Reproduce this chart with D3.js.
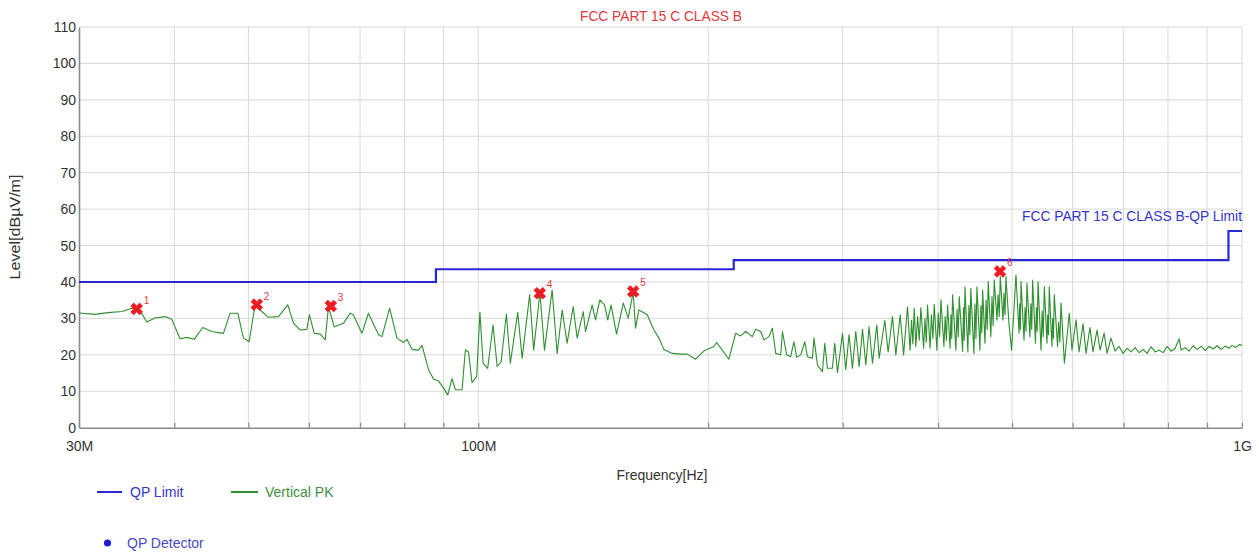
<!DOCTYPE html>
<html>
<head>
<meta charset="utf-8">
<script src="https://cdn.jsdelivr.net/npm/d3@7"></script>
<style>
  body { margin: 0; background: #fff; }
  text { font-family: Arial, "Liberation Sans", sans-serif; }
</style>
</head>
<body>
<svg id="chart" width="1259" height="557"></svg>
<script>
// Vertical peak scan, frequency in MHz and level in dBµV/m
const peakFreq = [
  30.0, 31.48, 32.73, 34.15, 35.19, 35.73, 36.24, 36.79, 37.72, 38.88,
  39.67, 40.69, 41.51, 42.48, 43.57, 44.75, 46.37, 47.30, 48.43, 49.26,
  50.10, 51.02, 52.06, 53.10, 54.74, 56.30, 57.27, 58.45, 59.63, 60.09,
  60.97, 62.09, 63.03, 63.65, 64.76, 66.61, 67.94, 68.60, 70.41, 71.78,
  74.03, 74.79, 76.53, 78.25, 79.84, 80.64, 81.91, 83.46, 84.39, 86.07,
  87.39, 88.74, 90.08, 91.21, 92.37, 93.31, 95.22, 96.17, 97.12, 98.11,
  99.50, 100.48, 101.45, 102.86, 104.55, 105.84, 107.13, 108.84, 110.13, 112.62,
  114.13, 116.74, 118.17, 120.43, 122.07, 124.92, 126.84, 128.77, 130.71, 133.10,
  134.73, 137.21, 138.15, 140.95, 142.38, 144.26, 146.31, 147.75, 149.23, 151.70,
  154.82, 157.14, 159.52, 160.65, 162.28, 166.40, 169.79, 172.38, 174.99, 179.44,
  184.04, 187.76, 192.54, 197.86, 203.46, 205.15, 208.72, 212.87, 217.25, 220.58,
  223.91, 228.45, 230.77, 234.31, 236.65, 240.18, 242.67, 245.13, 248.89, 250.16,
  253.40, 256.41, 259.04, 261.18, 264.38, 267.58, 269.72, 273.81, 275.16, 278.02,
  282.26, 284.23, 286.50, 290.85, 292.91, 295.33, 299.83, 302.81, 305.80, 308.96,
  312.10, 315.26, 318.50, 321.66, 324.83, 328.18, 332.52, 334.87, 340.66, 344.03,
  348.60, 352.14, 356.79, 360.47, 364.76, 367.59, 369.3, 370.7, 372.19, 374.05,
  376.0, 377.9, 379.79, 382.90, 384.5, 386.0, 387.46, 390.46, 392.0, 393.8,
  395.35, 398.54, 400.2, 401.8, 403.42, 407.09, 408.6, 410.1, 411.57, 414.76,
  415.8, 416.8, 417.82, 422.06, 423.5, 425.0, 426.34, 430.72, 431.8, 432.8,
  433.72, 437.57, 438.9, 440.2, 441.47, 445.60, 447.0, 448.4, 449.69, 453.83,
  455.1, 456.3, 457.52, 460.71, 462.3, 463.8, 465.26, 468.92, 470.6, 472.2,
  473.75, 477.67, 479.3, 480.9, 482.50, 486.42, 488.0, 489.4, 490.82, 495.22,
  499.18, 505.85, 510.53, 511.6, 512.6, 513.61, 518.28, 519.9, 521.4, 522.91,
  527.58, 529.1, 530.5, 531.93, 536.51, 538.0, 539.3, 540.66, 545.57, 547.4,
  549.2, 551.03, 555.45, 556.7, 558.0, 559.26, 563.76, 565.1, 566.4, 567.81,
  573.38, 575.4, 577.4, 579.52, 585.32, 594.07, 598.85, 606.29, 611.90, 619.28,
  624.89, 632.33, 638.08, 645.99, 651.94, 659.85, 665.74, 673.61, 682.02, 690.42,
  698.76, 707.16, 715.57, 724.47, 733.39, 742.25, 751.17, 760.10, 769.54, 779.03,
  788.43, 797.92, 807.40, 817.43, 827.51, 832.50, 842.57, 852.65, 862.91, 873.61,
  884.31, 895.01, 905.71, 916.62, 927.98, 939.35, 950.72, 962.08, 969.8, 981.9,
  991.0, 1000
];
const peakLevel = [
  31.5, 31.1, 31.6, 31.9, 32.8, 32.6, 31.4, 29.0, 30.1, 30.5,
  29.8, 24.4, 24.8, 24.3, 27.5, 26.4, 25.9, 31.4, 31.4, 24.6,
  23.6, 33.7, 31.9, 30.3, 30.5, 33.7, 28.7, 26.8, 27.0, 31.0,
  25.9, 25.7, 24.1, 33.2, 27.7, 28.7, 31.4, 31.0, 25.9, 31.4,
  25.5, 25.0, 32.8, 24.6, 23.4, 24.3, 21.5, 21.3, 22.6, 15.9,
  13.3, 12.8, 10.8, 9.0, 13.5, 10.4, 10.4, 21.4, 20.7, 12.4,
  14.0, 31.7, 17.7, 16.3, 28.2, 16.8, 18.1, 31.2, 17.7, 31.6,
  19.1, 36.5, 21.3, 37.1, 21.3, 37.8, 20.4, 32.3, 23.2, 33.2,
  24.6, 31.9, 26.4, 33.7, 29.6, 35.1, 33.7, 29.6, 33.7, 25.7,
  34.2, 30.1, 37.2, 27.3, 32.3, 31.0, 26.8, 24.6, 21.5, 20.4,
  20.2, 20.2, 18.8, 21.2, 22.3, 23.4, 21.3, 18.8, 25.9, 25.2,
  26.4, 25.0, 27.0, 26.4, 24.1, 25.0, 27.3, 20.4, 20.0, 26.4,
  20.0, 19.5, 23.6, 19.3, 20.0, 23.6, 19.5, 19.1, 24.6, 17.2,
  15.4, 23.2, 16.3, 16.3, 23.2, 15.1, 25.9, 15.9, 25.5, 16.3,
  26.4, 16.8, 27.0, 17.2, 27.7, 17.7, 28.2, 19.1, 29.5, 20.8,
  30.5, 20.0, 31.0, 20.0, 33.2, 21.3, 29.5, 23.0, 32.8, 22.3,
  30.5, 24.0, 33.0, 21.8, 30.0, 23.5, 33.7, 21.8, 31.0, 24.5,
  33.9, 21.3, 31.5, 25.0, 35.1, 22.3, 30.5, 24.0, 33.7, 21.8,
  31.0, 24.5, 36.5, 21.3, 32.5, 25.0, 36.0, 20.9, 33.0, 24.0,
  38.7, 20.8, 33.5, 25.5, 38.3, 20.4, 34.0, 24.5, 38.7, 21.3,
  33.5, 26.0, 37.8, 23.2, 35.0, 27.0, 40.1, 25.0, 36.0, 28.0,
  40.6, 29.6, 36.5, 30.5, 41.5, 29.6, 37.0, 31.0, 41.5, 28.7,
  21.3, 41.9, 26.0, 34.0, 27.0, 40.1, 24.1, 33.0, 26.5, 39.7,
  25.0, 34.0, 27.0, 40.5, 23.2, 33.0, 26.5, 40.1, 21.3, 32.0,
  25.0, 38.7, 23.2, 31.0, 25.5, 38.7, 22.3, 30.0, 24.5, 36.5,
  22.3, 29.0, 23.5, 34.2, 17.7, 31.4, 21.3, 29.6, 20.8, 28.5,
  20.4, 27.5, 20.8, 26.8, 21.3, 26.0, 20.4, 24.6, 21.0, 22.3,
  20.4, 21.8, 20.8, 22.0, 20.6, 21.5, 20.4, 22.2, 20.8, 21.3,
  20.6, 22.3, 21.0, 21.8, 24.4, 21.3, 22.0, 21.0, 22.5, 21.5,
  22.4, 21.2, 22.3, 21.6, 22.5, 21.5, 22.4, 21.8, 22.6, 22.0,
  22.8, 22.6
];

// FCC Part 15 C Class B quasi-peak limit (step after each edge)
const limitFreq = [30, 88, 216, 960, 1000];
const limitLevel = [40, 43.5, 46, 54, 54];

// Numbered peak markers
const markerFreq = [35.70, 51.28, 64.10, 120.36, 159.52, 482.07];
const markerLevel = [32.6, 33.8, 33.4, 36.9, 37.4, 42.9];
const markerLabel = ["1", "2", "3", "4", "5", "6"];

// Axis ticks
const levelTicks = [0, 10, 20, 30, 40, 50, 60, 70, 80, 90, 100, 110];
const freqTicks = [30, 40, 50, 60, 70, 80, 90, 100, 200, 300, 400, 500, 600, 700, 800, 900, 1000];
const freqLabelValues = [30, 100, 1000];
const freqLabelText = ["30M", "100M", "1G"];

(function draw() {
  const svg = d3.select("#chart");
  const plotLeft = 79, plotRight = 1242, plotTop = 27, plotBottom = 427.7;

  const x = d3.scaleLog().domain([30, 1000]).range([plotLeft, plotRight]);
  const y = d3.scaleLinear().domain([0, 110]).range([plotBottom, plotTop]);

  const gridColor = "#d9d9d9";
  const axisColor = "#8a8a8a";
  const textColor = "#333";

  // Grid
  svg.append("g").selectAll("line").data(levelTicks.filter(d => d > 0)).join("line")
    .attr("x1", plotLeft).attr("x2", plotRight)
    .attr("y1", d => y(d)).attr("y2", d => y(d))
    .attr("stroke", gridColor).attr("stroke-width", 1);
  svg.append("g").selectAll("line").data(freqTicks.filter(d => d > 30)).join("line")
    .attr("x1", d => x(d)).attr("x2", d => x(d))
    .attr("y1", plotTop).attr("y2", plotBottom)
    .attr("stroke", gridColor).attr("stroke-width", 1);

  // Axes
  const xAxis = d3.axisBottom(x)
    .tickValues(freqTicks)
    .tickSizeInner(-5).tickSizeOuter(0).tickPadding(13)
    .tickFormat(d => {
      const i = freqLabelValues.indexOf(d);
      return i >= 0 ? freqLabelText[i] : "";
    });
  const gx = svg.append("g").attr("transform", `translate(0,${plotBottom})`).call(xAxis);
  gx.select(".domain").attr("stroke", axisColor).attr("stroke-width", 1.6);
  gx.selectAll(".tick line").attr("stroke", axisColor).attr("stroke-width", 1.2);
  gx.selectAll(".tick text").attr("fill", textColor).attr("font-size", 14);

  const yAxis = d3.axisLeft(y).tickValues(levelTicks).tickSize(0).tickPadding(3);
  const gy = svg.append("g").attr("transform", `translate(${plotLeft},0)`).call(yAxis);
  gy.select(".domain").attr("stroke", axisColor).attr("stroke-width", 1.6);
  gy.selectAll(".tick text").attr("fill", textColor).attr("font-size", 14);

  // Axis titles
  svg.append("text")
    .attr("x", 662).attr("y", 480)
    .attr("text-anchor", "middle").attr("font-size", 14).attr("fill", textColor)
    .text("Frequency[Hz]");
  svg.append("text")
    .attr("transform", "translate(20,227) rotate(-90)")
    .attr("text-anchor", "middle").attr("font-size", 14).attr("fill", textColor)
    .attr("textLength", 105).attr("lengthAdjust", "spacingAndGlyphs")
    .text("Level[dBµV/m]");

  // Title
  svg.append("text")
    .attr("x", 661).attr("y", 21)
    .attr("text-anchor", "middle").attr("font-size", 14).attr("fill", "#e23a3a")
    .attr("textLength", 162).attr("lengthAdjust", "spacingAndGlyphs")
    .text("FCC PART 15 C CLASS B");

  // Plot clip
  svg.append("clipPath").attr("id", "plotClip")
    .append("rect").attr("x", plotLeft).attr("y", plotTop - 2)
    .attr("width", plotRight - plotLeft + 2).attr("height", plotBottom - plotTop + 2);

  // Limit line
  const limitLine = d3.line()
    .x((d, i) => x(limitFreq[i]))
    .y((d, i) => y(limitLevel[i]))
    .curve(d3.curveStepAfter);
  svg.append("path")
    .attr("d", limitLine(limitFreq))
    .attr("fill", "none").attr("stroke", "#2727d6").attr("stroke-width", 2.2);

  svg.append("text")
    .attr("x", 1242).attr("y", 221)
    .attr("text-anchor", "end").attr("font-size", 14).attr("fill", "#3535c8")
    .attr("textLength", 220).attr("lengthAdjust", "spacingAndGlyphs")
    .text("FCC PART 15 C CLASS B-QP Limit");

  // Peak trace
  const peakLine = d3.line()
    .x((d, i) => x(peakFreq[i]))
    .y((d, i) => y(peakLevel[i]));
  svg.append("path")
    .attr("clip-path", "url(#plotClip)")
    .attr("d", peakLine(peakFreq))
    .attr("fill", "none").attr("stroke", "#2e8f2e").attr("stroke-width", 1.1)
    .attr("stroke-linejoin", "round");

  // Markers
  const cross = d3.symbol().type(d3.symbolCross).size(85);
  const mg = svg.append("g").selectAll("g").data(markerFreq).join("g")
    .attr("transform", (d, i) => `translate(${x(d)},${y(markerLevel[i])})`);
  mg.append("path")
    .attr("d", cross())
    .attr("transform", "rotate(45)")
    .attr("fill", "#ee1b24").attr("stroke", "#ee1b24").attr("stroke-width", 0.8);
  mg.append("text")
    .attr("x", 7).attr("y", -5)
    .attr("font-size", 10).attr("fill", "#e23a3a")
    .text((d, i) => markerLabel[i]);

  // Legend
  const legend = svg.append("g");
  legend.append("line").attr("x1", 97).attr("x2", 122).attr("y1", 492).attr("y2", 492)
    .attr("stroke", "#2727d6").attr("stroke-width", 2);
  legend.append("text").attr("x", 130).attr("y", 497).attr("font-size", 14).attr("fill", "#3535c8")
    .text("QP Limit");
  legend.append("line").attr("x1", 231).attr("x2", 258).attr("y1", 492).attr("y2", 492)
    .attr("stroke", "#2e8f2e").attr("stroke-width", 2);
  legend.append("text").attr("x", 265).attr("y", 497).attr("font-size", 14).attr("fill", "#3f8f3f")
    .text("Vertical PK");
  legend.append("circle").attr("cx", 107.5).attr("cy", 543).attr("r", 3.6).attr("fill", "#1c1cd0");
  legend.append("text").attr("x", 127).attr("y", 548).attr("font-size", 14).attr("fill", "#4a4ac8")
    .text("QP Detector");
})();
</script>
</body>
</html>
